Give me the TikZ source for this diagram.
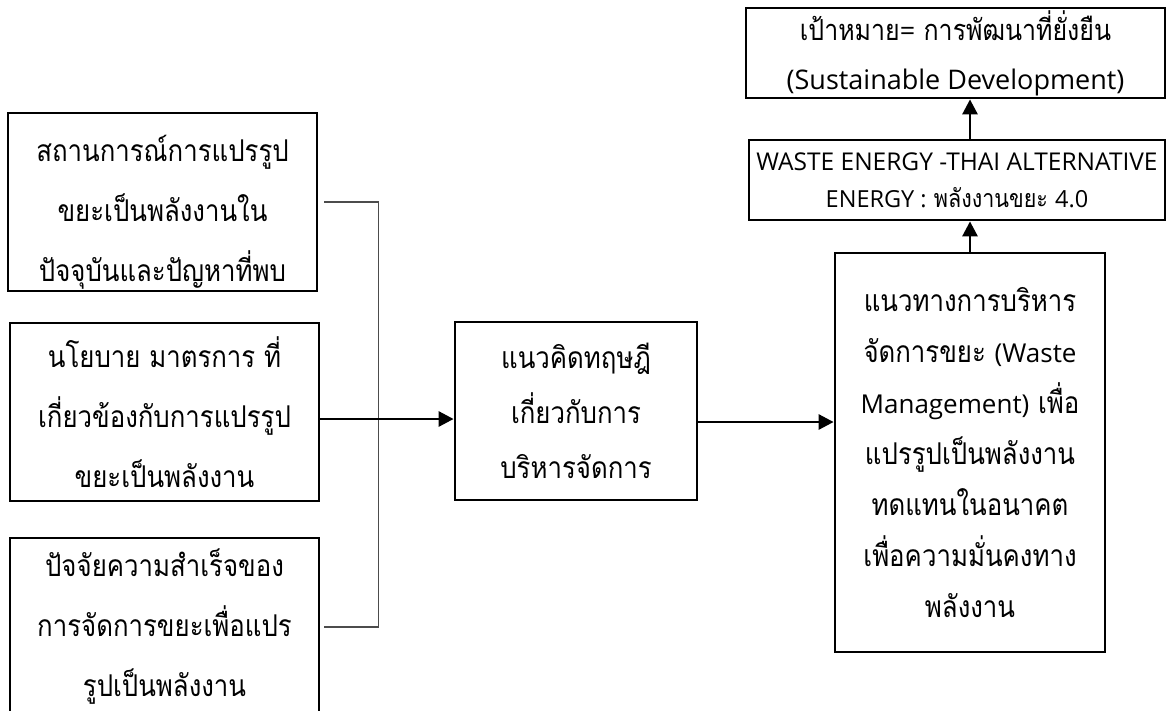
\documentclass[tikz,border=0pt]{standalone}
\usepackage{fontspec}
\setmainfont[Script=Thai,FakeStretch=0.86]{Loma}
\newfontfamily\lat{Open Sans}
\usetikzlibrary{arrows.meta,calc}
\tikzset{
  box/.style={draw=black,line width=2.8pt,rectangle,inner sep=0pt},
  txt/.style={align=center,inner sep=0pt},
  leftbox/.style={box,minimum width=309pt,minimum height=178pt},
  lefttxt/.style={txt,font=\fontsize{30}{60}\selectfont},
  conn/.style={line width=2.8pt,-{Triangle[length=15pt,width=15pt]}},
  bracket/.style={line width=1.3pt,draw=black!70}
}
\begin{document}
\begin{tikzpicture}[x=1pt,y=-1pt]
\useasboundingbox (0,0) rectangle (1169,710);
\clip (0,0) rectangle (1169,710);
% boxes
\node[leftbox] (b1) at (162.5,202) {};
\node[leftbox] (b2) at (164.5,412) {};
\node[leftbox] (b3) at (164.5,627) {};
\node[box,minimum width=242pt,minimum height=178pt] (mid) at (576,411) {};
\node[box,minimum width=270pt,minimum height=399pt] (rt) at (970,452.5) {};
\node[box,minimum width=416pt,minimum height=80pt] (waste) at (957,180) {};
\node[box,minimum width=419pt,minimum height=90pt] (goal) at (955.5,53) {};
% texts
\node[lefttxt] (t1) at ($(b1.center)+(0,10)$) {สถานการณ์การแปรรูป\\ขยะเป็นพลังงานใน\\ปัจจุบันและปัญหาที่พบ};
\node[lefttxt] (t2) at (b2.center) {นโยบาย มาตรการ ที่\\เกี่ยวข้องกับการแปรรูป\\ขยะเป็นพลังงาน};
\node[lefttxt] (t3) at (b3.center) {ปัจจัยความสำเร็จของ\\การจัดการขยะเพื่อแปร\\รูปเป็นพลังงาน};
\node[txt,font=\fontsize{30}{55}\selectfont] (tm) at (mid.center) {แนวคิดทฤษฎี\\เกี่ยวกับการ\\บริหารจัดการ};
\node[txt,font=\fontsize{30}{51}\selectfont] (tr) at (rt.center) {แนวทางการบริหาร\\จัดการขยะ {\lat\fontsize{26}{51}\selectfont(Waste}\\{\lat\fontsize{26}{51}\selectfont Management)} เพื่อ\\แปรรูปเป็นพลังงาน\\ทดแทนในอนาคต\\เพื่อความมั่นคงทาง\\พลังงาน};
\node[txt,font=\fontsize{25}{37}\selectfont] (tw) at (waste.center) {{\lat\fontsize{24.5}{37}\selectfont WASTE ENERGY -THAI ALTERNATIVE}\\{\lat\fontsize{23.5}{37}\selectfont ENERGY :} พลังงานขยะ {\lat\fontsize{23.5}{37}\selectfont 4.0}};
\node[txt,font=\fontsize{29}{49}\selectfont] (tg) at (goal.center) {เป้าหมาย{\lat\fontsize{27}{49}\selectfont=} การพัฒนาที่ยั่งยืน\\{\lat\fontsize{27}{49}\selectfont(Sustainable Development)}};
% bracket
\draw[bracket] ($(b1.east)+(6,0)$) -- ++(54,0) |- ($(b3.east)+(4,0)$);
% arrows
\coordinate (a1) at (319,419);
\coordinate (a2) at (697,422);
\draw[conn] (a1 -| b2.east) -- (a1 -| mid.west);
\draw[conn] (a2 -| mid.east) -- (a2 -| rt.west);
\draw[conn] (rt.north) -- (rt.north |- waste.south);
\draw[conn] (waste.north -| rt.north) -- (rt.north |- goal.south);
\end{tikzpicture}
\end{document}
